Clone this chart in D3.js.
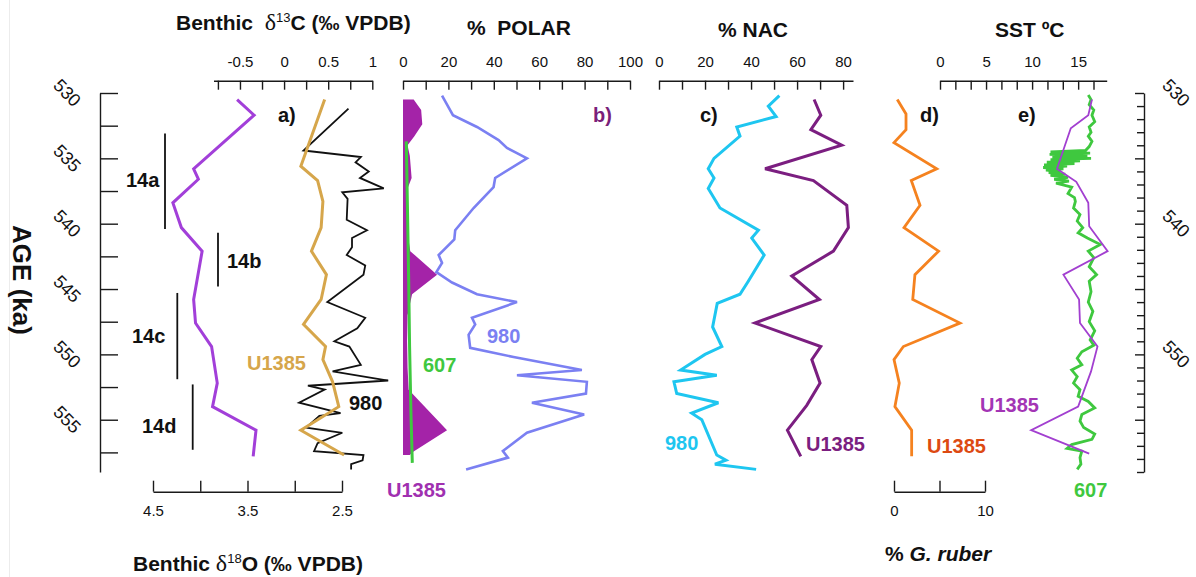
<!DOCTYPE html>
<html>
<head>
<meta charset="utf-8">
<script src="https://cdn.jsdelivr.net/npm/d3@7"></script>
<style>
  html, body { margin: 0; padding: 0; background: #fff; }
  svg { display: block; font-family: "Liberation Sans", Arial, sans-serif; }
</style>
</head>
<body>
<svg id="chart" width="1196" height="577"></svg>
<script>
// ---------- age axis ----------
const ageDomain = [530, 559];
const ageLeftLabels = [530, 535, 540, 545, 550, 555];
const ageRightLabels = [530, 540, 550];

// ---------- a) benthic isotopes ----------
const d18oAge    = [530.5, 531.7, 535.8, 536.6, 538.4, 540.3, 542.1, 545.8, 547.6, 549.4, 552.2, 554.0, 555.8, 557.8];
const d18oU1385  = [3.61, 3.43, 4.07, 4.02, 4.29, 4.20, 3.98, 4.07, 4.05, 3.88, 3.82, 3.87, 3.41, 3.44];

const d13cU1385Age = [530.5, 535.6, 536.7, 538.3, 540.3, 542.1, 543.9, 545.8, 547.7, 549.4, 550.4, 552.1, 554.0, 555.8, 557.7];
const d13cU1385    = [0.46, 0.19, 0.38, 0.44, 0.42, 0.31, 0.48, 0.42, 0.22, 0.47, 0.44, 0.55, 0.62, 0.19, 0.68];

const d13c980Age = [531.2, 534.4, 534.9, 535.3, 536.0, 536.5, 537.3, 537.6, 538.1, 539.7, 540.5, 541.1, 541.8, 542.4, 543.2, 543.9,
                    546.0, 547.2, 548.0, 549.0, 549.4, 550.8, 551.3, 552.0, 552.4, 552.7, 553.7, 554.5, 554.7, 555.6, 556.0,
                    556.8, 557.4, 557.7, 558.1, 558.4, 558.8];
const d13c980    = [0.73, 0.22, 0.87, 0.81, 0.96, 0.86, 1.13, 0.66, 0.72, 0.71, 0.94, 0.77, 0.77, 0.71, 0.92, 0.90,
                    0.49, 0.92, 0.83, 0.57, 0.74, 0.87, 0.55, 1.18, 0.27, 0.46, 0.17, 0.64, 0.40, 0.25, 0.66,
                    0.38, 0.34, 0.90, 0.89, 0.76, 0.76];

const d13cTickLabels = [-0.5, 0, 0.5, 1];
const d18oTickLabels = [4.5, 3.5, 2.5];

// MIS 14 substages
const substageNames = ["14a", "14b", "14c", "14d"];
const substageStart = [533.1, 540.7, 545.3, 552.3];
const substageEnd   = [540.4, 544.8, 551.9, 557.3];

// ---------- b) % polar ----------
const polarU1385Age = [530.5, 531.3, 532.4, 533.3, 534.0, 534.8, 536.5, 537.3, 538.5, 540.5, 542.1, 543.9, 545.4, 547.0, 549.0, 551.0, 552.7, 555.8, 557.5, 557.7];
const polarU1385    = [4.7, 8.0, 8.5, 5.0, 2.0, 3.0, 3.8, 2.0, 1.8, 1.8, 3.2, 15.0, 4.0, 2.0, 1.8, 2.0, 2.5, 19.4, 4.0, 3.0];

const polar607Age = [533.7, 539.2, 544.3, 549.4, 554.5, 558.3];
const polar607    = [1.45, 2.0, 2.5, 2.9, 3.5, 4.1];

const polar980Age = [530.2, 531.7, 532.6, 533.6, 534.2, 534.6, 535.0, 536.5, 537.2, 538.8, 540.5, 541.2, 542.4, 543.0, 543.7,
                     544.5, 545.4, 546.0, 547.2, 547.7, 548.5, 549.5, 550.2, 551.2, 551.6, 552.1, 553.0, 553.7, 554.6,
                     556.0, 557.4, 557.9, 558.8];
const polar980    = [17.2, 22.0, 32.6, 42.1, 45.8, 50.2, 54.6, 40.6, 39.9, 31.1, 23.0, 22.6, 15.7, 17.2, 14.7,
                     21.6, 32.6, 50.2, 30.4, 31.8, 28.9, 29.6, 48.7, 78.8, 50.2, 81.0, 80.6, 56.8, 79.8,
                     54.6, 44.0, 46.2, 27.8];
const polarTickLabels = [0, 20, 40, 60, 80, 100];

// ---------- c) % NAC ----------
const nac980Age = [530.2, 531.0, 531.8, 532.6, 533.3, 535.0, 535.8, 536.5, 537.3, 538.8, 540.5, 541.1, 542.4, 544.4, 545.4,
                   546.1, 547.9, 549.4, 550.0, 551.2, 551.6, 552.1, 553.0, 553.7, 554.5, 555.0, 557.7, 558.1, 558.4, 558.8];
const nac980    = [52.3, 47.5, 50.9, 33.8, 35.2, 23.9, 21.4, 23.9, 21.4, 26.5, 43.2, 40.3, 45.7, 38.8, 35.2,
                   25.3, 23.3, 27.3, 20.0, 9.4, 25.1, 6.5, 7.7, 25.8, 14.2, 18.6, 25.1, 29.1, 24.3, 42.2];

const nacU1385Age = [530.5, 531.7, 532.8, 534.0, 535.8, 536.7, 538.6, 540.3, 542.1, 544.0, 545.8, 547.6, 549.4, 550.4, 552.2, 553.9, 555.8, 557.8];
const nacU1385    = [67.4, 70.3, 66.0, 79.4, 46.1, 67.1, 81.6, 82.3, 75.8, 57.7, 69.7, 41.7, 70.3, 66.4, 70.0, 64.2, 55.8, 61.6];
const nacTickLabels = [0, 20, 40, 60, 80];

// ---------- d) % G. ruber ----------
const ruberAge   = [530.5, 531.6, 532.8, 533.8, 535.8, 536.7, 538.6, 540.3, 542.1, 543.9, 545.8, 547.6, 549.4, 550.4, 552.2, 554.0, 555.8, 557.8];
const ruberU1385 = [0.36, 1.32, 1.32, 0.0, 4.7, 1.9, 2.86, 1.1, 4.9, 2.3, 2.06, 7.25, 1.03, 0.0, 0.58, 0.1, 1.94, 1.94];
const ruberTickLabels = [0, 10];

// ---------- e) SST ----------
const sstU1385Age = [530.5, 531.7, 532.7, 535.8, 536.8, 538.4, 540.2, 542.1, 543.9, 545.8, 547.6, 549.4, 551.3, 554.0, 555.8, 557.6];
const sstU1385    = [16.5, 16.1, 14.2, 12.7, 14.8, 16.1, 16.2, 18.2, 13.4, 15.1, 15.2, 17.1, 16.4, 15.0, 9.9, 16.2];

const sst607Age = [530.15, 530.5, 530.9, 531.3, 531.7, 532.2, 532.6, 533.0, 533.3, 533.7, 534.1, 534.4,
                   534.5, 534.6, 534.7, 534.8, 534.9, 535.0, 535.1, 535.2, 535.3, 535.4, 535.5, 535.6, 535.7, 535.8,
                   535.9, 536.0, 536.1, 536.2, 536.3, 536.45, 536.6, 536.75, 536.9,
                   537.2, 537.7, 538.0, 538.3, 538.8, 539.3, 539.8, 540.3, 540.7, 541.1,
                   541.6, 542.1, 542.6, 543.3, 543.9, 544.4, 545.2, 546.0, 546.7, 547.5, 548.2, 548.9, 549.3, 549.8,
                   550.3, 550.8, 551.2, 551.7, 552.2, 552.7, 553.2, 553.6, 554.1, 554.6, 555.1, 555.6, 556.1, 556.5,
                   556.9, 557.2, 557.4, 557.9, 558.4, 558.8];
const sst607    = [16.1, 16.4, 16.2, 16.7, 16.5, 16.8, 16.2, 16.4, 16.1, 16.5, 16.2, 15.8,
                   12.0, 16.3, 11.9, 16.0, 12.2, 16.4, 12.0, 15.2, 11.6, 14.6, 11.3, 13.8, 11.2, 13.4,
                   11.5, 13.1, 11.8, 13.6, 12.0, 13.9, 12.4, 14.0, 12.6,
                   14.3, 13.9, 14.6, 14.7, 14.5, 15.2, 14.9, 15.5, 15.0, 16.0,
                   17.4, 16.1, 16.7, 16.2, 17.0, 16.2, 16.4, 16.1, 16.6, 16.2, 16.8, 16.3, 16.7, 15.4,
                   14.9, 15.4, 14.3, 14.9, 14.5, 15.2, 15.0, 16.1, 16.8, 15.4, 15.2, 15.6, 16.8, 16.5,
                   14.3, 13.8, 15.4, 15.2, 15.3, 14.9];
const sstTickLabels = [0, 5, 10, 15];

// ---------- drawing ----------
const FONT = '"Liberation Sans", Arial, sans-serif';
const svg = d3.select("#chart");
svg.append("rect").attr("width", 1196).attr("height", 577).attr("fill", "#fff");
svg.append("line").attr("x1", 9.5).attr("x2", 9.5).attr("y1", 0).attr("y2", 577)
   .attr("stroke", "#ececec").attr("stroke-width", 1);

const y = d3.scaleLinear().domain(ageDomain).range([93, 472]);

const xD13C  = d3.scaleLinear().domain([-0.8, 1.0]).range([213.5, 372.3]);
const xD18O  = d3.scaleLinear().domain([4.5, 2.5]).range([153, 342]);
const xPolar = d3.scaleLinear().domain([0, 100]).range([403, 630]);
const xNAC   = d3.scaleLinear().domain([0, 84.3]).range([659, 853]);
const xRuber = d3.scaleLinear().domain([0, 10]).range([894, 985]);
const xSST   = d3.scaleLinear().domain([0, 18.1]).range([940, 1106.7]);

const AX = "#1a1a1a";
function styleAxis(g) {
  g.selectAll("path.domain, .tick line").attr("stroke", AX).attr("stroke-width", 1.4);
  g.selectAll("text").attr("font-size", 15).attr("fill", "#111").attr("font-family", FONT);
}
const isLabel = (list) => (d) => list.some(v => Math.abs(v - d) < 1e-6);

function topAxis(scale, ticks, labels) {
  const ax = d3.axisTop(scale).tickValues(ticks).tickSizeInner(-9).tickSizeOuter(0).tickPadding(14)
    .tickFormat(d => isLabel(labels)(d) ? String(Math.round(d * 100) / 100) : "");
  svg.append("g").attr("transform", "translate(0,80.7)").call(ax).call(styleAxis);
}
function bottomAxis(scale, ticks, labels) {
  const ax = d3.axisBottom(scale).tickValues(ticks).tickSizeInner(-11).tickSizeOuter(0).tickPadding(14)
    .tickFormat(d => isLabel(labels)(d) ? String(d) : "");
  svg.append("g").attr("transform", "translate(0,491.7)").call(ax).call(styleAxis);
}

topAxis(xD13C, d3.range(-0.75, 1.001, 0.25), d13cTickLabels);
topAxis(xPolar, d3.range(0, 100.1, 10), polarTickLabels);
topAxis(xNAC, d3.range(0, 80.1, 10), nacTickLabels);
topAxis(xSST, d3.range(0, 17.5, 5 / 3), sstTickLabels);
bottomAxis(xD18O, d3.range(4.5, 2.49, -0.5), d18oTickLabels);
bottomAxis(xRuber, [0, 5, 10], ruberTickLabels);

// left age axis
svg.append("g").attr("transform", "translate(100,0)")
  .call(d3.axisRight(y).tickValues(d3.range(530, 558, 2.5)).tickSize(18).tickSizeOuter(0).tickFormat(""))
  .call(styleAxis);
svg.append("g").selectAll("text").data(ageLeftLabels).join("text")
  .attr("transform", d => `translate(67,${y(d)}) rotate(45)`)
  .attr("text-anchor", "middle").attr("dominant-baseline", "central")
  .attr("font-size", 18).attr("font-family", FONT).attr("fill", "#111").text(d => d);

// right age axis
const rAx = svg.append("g").attr("transform", "translate(1144,0)")
  .call(d3.axisLeft(y).tickValues(d3.range(530, 559.5, 1)).tickSize(7).tickSizeOuter(0).tickFormat(""))
  .call(styleAxis);
rAx.selectAll(".tick line").attr("x2", d => (d % 5 === 0) ? -9 : -7);
svg.append("g").selectAll("text").data(ageRightLabels).join("text")
  .attr("transform", d => `translate(1176,${y(d)}) rotate(45)`)
  .attr("text-anchor", "middle").attr("dominant-baseline", "central")
  .attr("font-size", 18).attr("font-family", FONT).attr("fill", "#111").text(d => d);

// axis titles
function title(x, yy, parts, anchor) {
  const t = svg.append("text").attr("x", x).attr("y", yy).attr("font-family", FONT)
    .attr("font-size", 21).attr("font-weight", "bold").attr("fill", "#111")
    .attr("text-anchor", anchor || "start").attr("xml:space", "preserve");
  parts.forEach(p => {
    const s = t.append("tspan").text(p.t);
    if (p.serif) s.attr("font-family", '"Liberation Serif", "DejaVu Serif", serif').attr("font-weight", "normal").attr("font-size", 24);
    if (p.sup) s.attr("font-size", 13).attr("font-weight", "normal").attr("dy", -8);
    if (p.down) s.attr("dy", 8);
    if (p.italic) s.attr("font-style", "italic");
  });
  return t;
}
title(176, 30, [{ t: "Benthic\u00a0\u00a0" }, { t: "δ", serif: true }, { t: "13", sup: true }, { t: "C (‰ VPDB)", down: true }]);
title(133, 571, [{ t: "Benthic\u00a0" }, { t: "δ", serif: true }, { t: "18", sup: true }, { t: "O (‰ VPDB)", down: true }]);
title(467, 35, [{ t: "%\u00a0\u00a0POLAR" }]);
title(718, 37, [{ t: "% NAC" }]);
title(995, 37, [{ t: "SST ºC" }]);
title(885, 561, [{ t: "% " }, { t: "G. ruber", italic: true }]);
svg.append("text").attr("transform", "translate(22,280) rotate(90)")
  .attr("text-anchor", "middle").attr("dominant-baseline", "central")
  .attr("font-family", FONT).attr("font-size", 26).attr("font-weight", "bold").attr("fill", "#111")
  .text("AGE (ka)");

// series helpers
function series(ages, vals) { return ages.map((a, i) => ({ a, v: vals[i] })); }
function drawLine(xs, ages, vals, color, width) {
  svg.append("path").datum(series(ages, vals))
    .attr("fill", "none").attr("stroke", color).attr("stroke-width", width)
    .attr("stroke-linejoin", "miter").attr("stroke-miterlimit", 3)
    .attr("d", d3.line().x(d => xs(d.v)).y(d => y(d.a)));
}
function label(x, yy, txt, color, size) {
  svg.append("text").attr("x", x).attr("y", yy).attr("font-family", FONT)
    .attr("font-size", size || 20).attr("font-weight", "bold").attr("fill", color).text(txt);
}

// a)
drawLine(xD18O, d18oAge, d18oU1385, "#a23fd9", 3);
drawLine(xD13C, d13c980Age, d13c980, "#111", 1.8);
drawLine(xD13C, d13cU1385Age, d13cU1385, "#d6a64b", 3);
label(278, 122, "a)", "#111");
label(247, 370, "U1385", "#d6a64b");
label(349, 410, "980", "#111");

// substage bars
const subX = [165, 218, 177.3, 192.7];
const subLabelX = [126, 227, 132, 142];
const subLabelY = [187, 268, 343, 433];
substageNames.forEach((n, i) => {
  svg.append("line").attr("x1", subX[i]).attr("x2", subX[i])
    .attr("y1", y(substageStart[i])).attr("y2", y(substageEnd[i]))
    .attr("stroke", "#111").attr("stroke-width", 1.8);
  label(subLabelX[i], subLabelY[i], n, "#111");
});

// b)
svg.append("path").datum(series(polarU1385Age, polarU1385))
  .attr("fill", "#a423a8").attr("stroke", "none")
  .attr("d", d3.area().y(d => y(d.a)).x0(xPolar(0)).x1(d => xPolar(d.v)));
drawLine(xPolar, polar607Age, polar607, "#3fc83f", 3);
drawLine(xPolar, polar980Age, polar980, "#7b80f2", 2.6);
label(593, 122, "b)", "#7a1f7a");
label(487, 343, "980", "#7b80f2");
label(423, 372, "607", "#3fc83f");
label(387, 497, "U1385", "#a030b0");

// c)
drawLine(xNAC, nac980Age, nac980, "#1ec6f0", 3);
drawLine(xNAC, nacU1385Age, nacU1385, "#7b1e80", 3);
label(700, 122, "c)", "#111");
label(665, 450, "980", "#1ec6f0");
label(806, 451, "U1385", "#7b1e80");

// d)
drawLine(xRuber, ruberAge, ruberU1385, "#f5821f", 2.8);
label(920, 122, "d)", "#111");
label(927, 453, "U1385", "#dd4a12");

// e)
drawLine(xSST, sst607Age, sst607, "#3fc83f", 2.8);
drawLine(xSST, sstU1385Age, sstU1385, "#a23fd0", 1.8);
label(1018, 122, "e)", "#111");
label(980, 412, "U1385", "#a335b5");
label(1074, 497, "607", "#3fc83f");
</script>
</body>
</html>
